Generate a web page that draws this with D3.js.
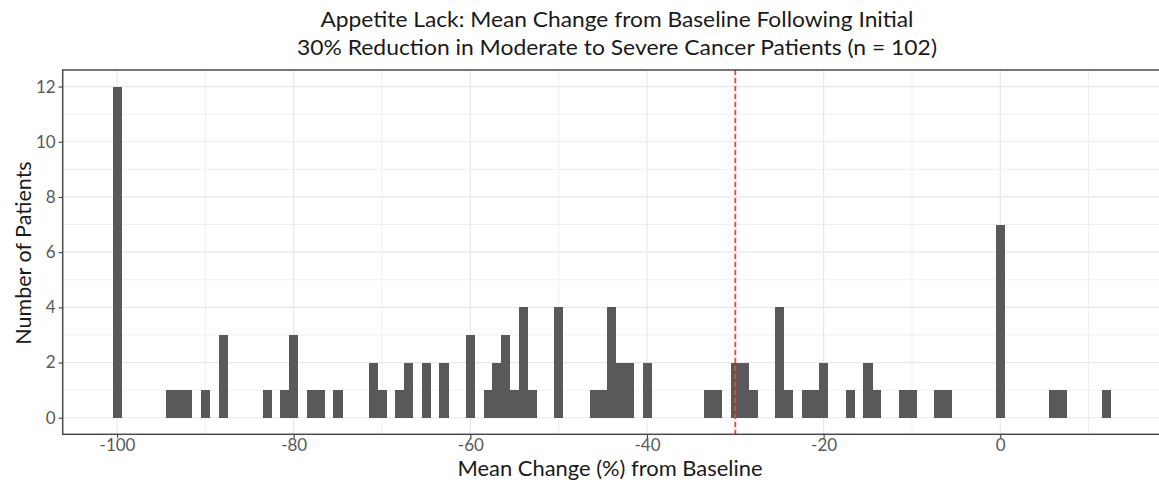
<!DOCTYPE html>
<html>
<head>
<meta charset="utf-8">
<script src="https://cdn.jsdelivr.net/npm/d3@7"></script>
<style>
  html, body { margin: 0; padding: 0; background: #fff; }
  svg { display: block; }
</style>
</head>
<body>
<svg id="chart" width="1159" height="482"></svg>
<script>
// ---- Data (bin centre in %, binwidth = 1) ----
const binCenters = [-100, -94, -93, -92, -90, -88, -83, -81, -80, -78, -77, -75,
  -71, -70, -68, -67, -65, -63, -60, -58, -57, -56, -55, -54, -53, -50,
  -46, -45, -44, -43, -42, -40, -33, -32, -30, -29, -28,
  -25, -24, -22, -21, -20, -17, -15, -14, -11, -10, -7, -6, 0, 6, 7, 12];
const counts = [12, 1, 1, 1, 1, 3, 1, 1, 3, 1, 1, 1,
  2, 1, 1, 2, 2, 2, 3, 1, 2, 3, 1, 4, 1, 4,
  1, 1, 4, 2, 2, 2, 1, 1, 2, 2, 1,
  4, 1, 1, 1, 2, 1, 2, 1, 1, 1, 1, 1, 7, 1, 1, 1];
const binWidth = 1;
const xTicks = [-100, -80, -60, -40, -20, 0];
const xMinor = [-90, -70, -50, -30, -10, 10];
const yTicks = [0, 2, 4, 6, 8, 10, 12];
const yMinor = [1, 3, 5, 7, 9, 11];
const refLine = -30;
const titleLines = ["Appetite Lack: Mean Change from Baseline Following Initial",
  "30% Reduction in Moderate to Severe Cancer Patients (n = 102)"];
const xTitle = "Mean Change (%) from Baseline";
const yTitle = "Number of Patients";

const data = binCenters.map((c, i) => ({ c, n: counts[i] }));

// ---- Layout ----
const panel = { left: 62.7, top: 70, right: 1160.6, bottom: 434.3 };
const font = "Lato, 'Open Sans', sans-serif";

const svg = d3.select("#chart");

const xMin = -100.5, xMax = 12.5, xPad = (xMax - xMin) * 0.05;
const x = d3.scaleLinear().domain([xMin - xPad, xMax + xPad]).range([panel.left, panel.right]);
const yMaxV = 12, yPad = yMaxV * 0.05;
const y = d3.scaleLinear().domain([-yPad, yMaxV + yPad]).range([panel.bottom, panel.top]);

// grid
const g = svg.append("g");
g.selectAll(".vminor").data(xMinor).join("line")
  .attr("x1", d => x(d)).attr("x2", d => x(d))
  .attr("y1", panel.top).attr("y2", panel.bottom)
  .attr("stroke", "#f0f0f0").attr("stroke-width", 1);
g.selectAll(".hminor").data(yMinor).join("line")
  .attr("y1", d => y(d)).attr("y2", d => y(d))
  .attr("x1", panel.left).attr("x2", panel.right)
  .attr("stroke", "#f0f0f0").attr("stroke-width", 1);
g.selectAll(".vmajor").data(xTicks).join("line")
  .attr("x1", d => x(d)).attr("x2", d => x(d))
  .attr("y1", panel.top).attr("y2", panel.bottom)
  .attr("stroke", "#e8e8e8").attr("stroke-width", 1.2);
g.selectAll(".hmajor").data(yTicks).join("line")
  .attr("y1", d => y(d)).attr("y2", d => y(d))
  .attr("x1", panel.left).attr("x2", panel.right)
  .attr("stroke", "#e8e8e8").attr("stroke-width", 1.2);

// bars
svg.append("g").attr("shape-rendering", "crispEdges").selectAll("rect").data(data).join("rect")
  .attr("x", d => x(d.c - binWidth / 2))
  .attr("width", d => x(d.c + binWidth / 2) - x(d.c - binWidth / 2) + 0.3)
  .attr("y", d => y(d.n))
  .attr("height", d => y(0) - y(d.n))
  .attr("fill", "#595959");

// reference line
svg.append("line")
  .attr("x1", x(refLine)).attr("x2", x(refLine))
  .attr("y1", panel.top).attr("y2", panel.bottom)
  .attr("stroke", "#ff3b3b").attr("stroke-width", 1.8)
  .attr("stroke-dasharray", "5,3");

// panel border
svg.append("rect")
  .attr("x", panel.left).attr("y", panel.top)
  .attr("width", panel.right - panel.left).attr("height", panel.bottom - panel.top)
  .attr("fill", "none").attr("stroke", "#4a4a4a").attr("stroke-width", 1.5);

// axes
const xAxis = svg.append("g").attr("transform", `translate(0,${panel.bottom})`)
  .call(d3.axisBottom(x).tickValues(xTicks).tickSize(4).tickPadding(1).tickFormat(d3.format("d")));
const yAxis = svg.append("g").attr("transform", `translate(${panel.left},0)`)
  .call(d3.axisLeft(y).tickValues(yTicks).tickSize(4).tickPadding(3).tickFormat(d3.format("d")));
[xAxis, yAxis].forEach(a => {
  a.select(".domain").remove();
  a.selectAll(".tick line").attr("stroke", "#4a4a4a").attr("stroke-width", 1.2);
  a.selectAll(".tick text").attr("fill", "#595959")
    .style("font-family", font).style("font-size", "17px");
});
xAxis.selectAll(".tick text").text(d => d < 0 ? "-" + Math.abs(d) : d);

// titles
svg.append("text").attr("x", 617).attr("y", 27).attr("text-anchor", "middle")
  .attr("textLength", 593).attr("lengthAdjust", "spacingAndGlyphs")
  .style("font-family", font).style("font-size", "21.5px").attr("fill", "#1a1a1a")
  .text(titleLines[0]);
svg.append("text").attr("x", 617).attr("y", 55).attr("text-anchor", "middle")
  .attr("textLength", 640).attr("lengthAdjust", "spacingAndGlyphs")
  .style("font-family", font).style("font-size", "21.5px").attr("fill", "#1a1a1a")
  .text(titleLines[1]);

svg.append("text").attr("x", 610).attr("y", 476).attr("text-anchor", "middle")
  .attr("textLength", 305).attr("lengthAdjust", "spacingAndGlyphs")
  .style("font-family", font).style("font-size", "20.5px").attr("fill", "#1a1a1a")
  .text(xTitle);

svg.append("text").attr("transform", "translate(31,253) rotate(-90)")
  .attr("text-anchor", "middle")
  .style("font-family", font).style("font-size", "21.5px").attr("fill", "#1a1a1a")
  .text(yTitle);
</script>
</body>
</html>
